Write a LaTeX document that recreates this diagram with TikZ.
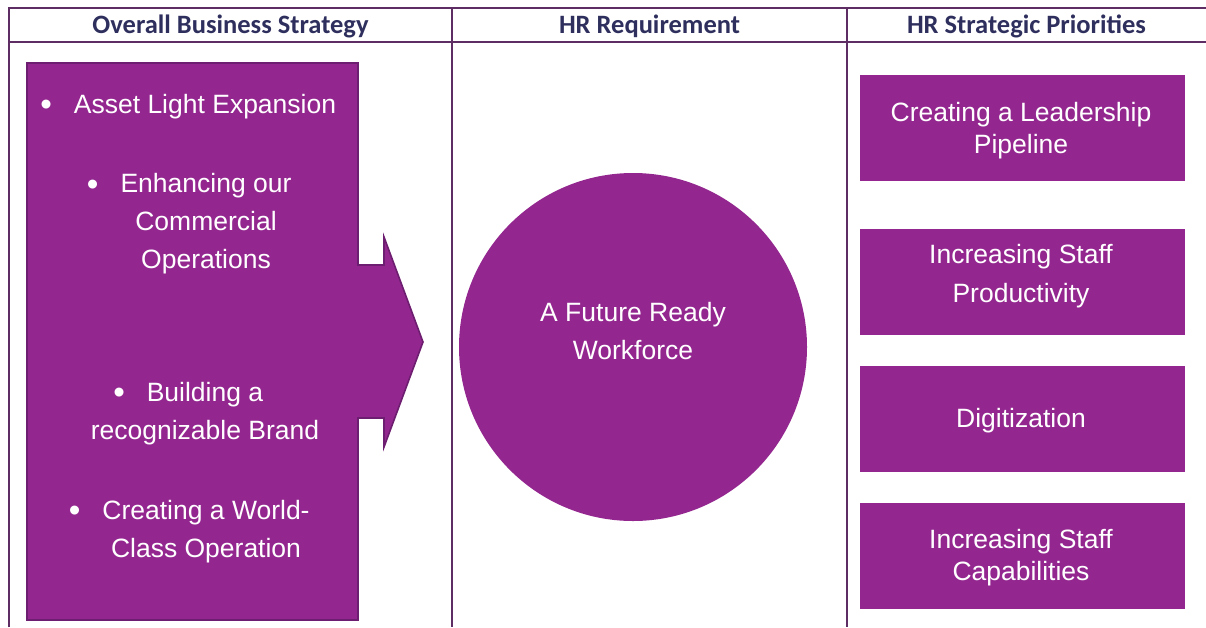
\documentclass[tikz,border=0pt]{standalone}
\usepackage{fontspec}
\setmainfont{Liberation Sans}
\newfontfamily\hdfont{Carlito}
\definecolor{plum}{HTML}{93278F}
\definecolor{plumedge}{HTML}{6E1E70}
\definecolor{gridline}{HTML}{5E2D64}
\definecolor{headtext}{HTML}{2F2F5E}
\tikzset{
  gridrule/.style={draw=gridline, line width=2pt},
  headlabel/.style={text=headtext, font=\hdfont\bfseries\fontsize{26.5}{28}\selectfont, inner sep=0pt},
  itemtext/.style={text=white, align=center, inner sep=0pt, font=\fontsize{26.5}{38}\selectfont},
  prioritybox/.style={fill=plum, minimum width=325pt, minimum height=106pt, inner sep=0pt},
}
% hanging bullet placed left of a centred first line
\newcommand{\bul}{\llap{\raisebox{-2.5pt}{\fontsize{33}{33}\selectfont\textbullet}\hspace{22pt}}}
\begin{document}
\begin{tikzpicture}[x=1pt, y=-1pt]
\useasboundingbox (0,0) rectangle (1206,627);
% table rules
\draw[gridrule] (9,627) -- (9,8) -- (1206,8);
\draw[gridrule] (9,42) -- (1206,42);
\draw[gridrule] (452,8) -- (452,627);
\draw[gridrule] (847,8) -- (847,627);
% column headings
\node[headlabel] (h1) at (230.5,26) {Overall Business Strategy};
\node[headlabel] (h2) at (649.5,26) {HR Requirement};
\node[headlabel] (h3) at (1026.5,26) {HR Strategic Priorities};
% strategy block with arrow head
\draw[fill=plum, draw=plumedge, line width=1.6pt, line join=miter]
  (27,63) -- (358,63) -- (358,265) -- (384,265) -- (384,237) -- (423,342)
  -- (384,447) -- (384,418) -- (358,418) -- (358,620) -- (27,620) -- cycle;
\node[itemtext] (s1) at (205,106.5) {\bul Asset Light Expansion};
\node[itemtext] (s2) at (206,224) {\bul Enhancing our\\Commercial\\Operations};
\node[itemtext] (s3) at (205,413.5) {\bul Building a\\recognizable Brand};
\node[itemtext] (s4) at (206,531.5) {\bul Creating a World-\\Class Operation};
% requirement
\node[circle, fill=plum, minimum size=348pt, inner sep=0pt] (req) at (633,347) {};
\node[itemtext] (reqtext) at (633,331.5) {A Future Ready\\Workforce};
% priorities
\node[prioritybox] (p1) at (1022.5,128) {};
\node[prioritybox] (p2) at (1022.5,281.5) {};
\node[prioritybox] (p3) at (1022.5,418.5) {};
\node[prioritybox] (p4) at (1022.5,555.5) {};
\node[itemtext, font=\fontsize{26.5}{32}\selectfont] (p1t) at (1021,130.5) {Creating a Leadership\\Pipeline};
\node[itemtext, font=\fontsize{26.5}{39}\selectfont] (p2t) at (1021,276) {Increasing Staff\\Productivity};
\node[itemtext] (p3t) at (1021,420.5) {Digitization};
\node[itemtext, font=\fontsize{26.5}{32}\selectfont] (p4t) at (1021,557.5) {Increasing Staff\\Capabilities};
\end{tikzpicture}
\end{document}
